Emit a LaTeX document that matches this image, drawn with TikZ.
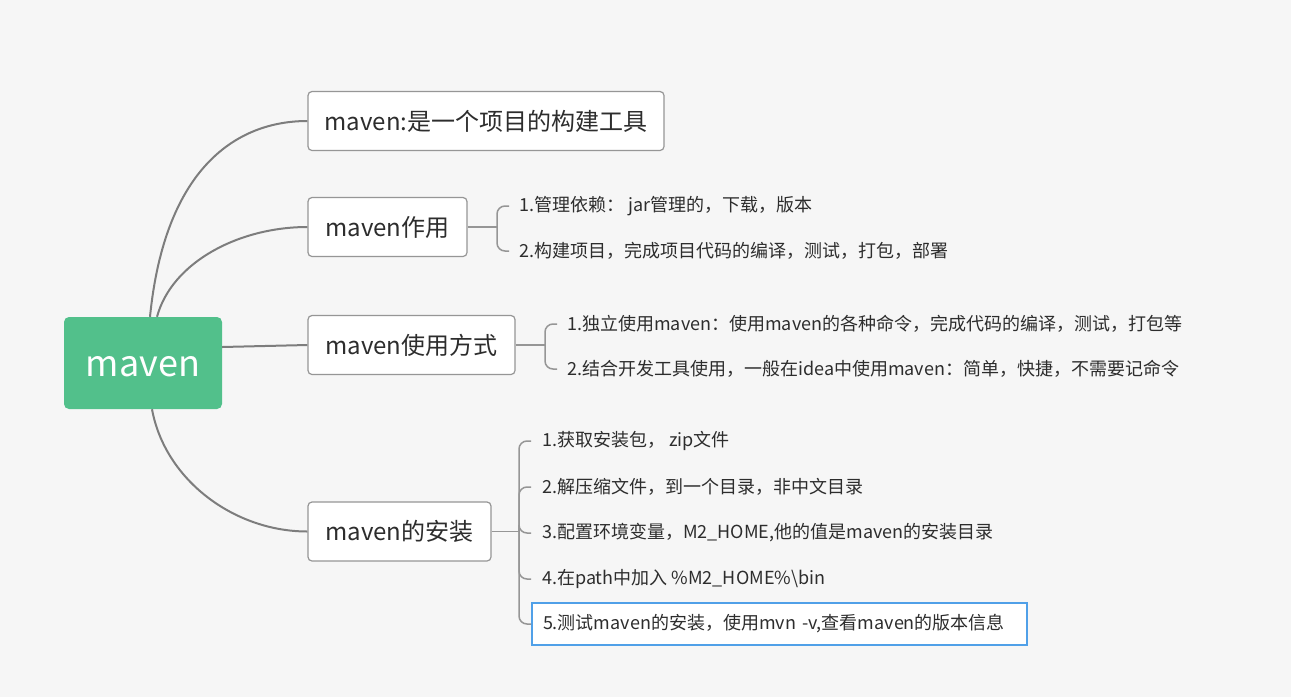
\documentclass[tikz,border=0pt]{standalone}
\usepackage{fontspec}
\setmainfont{Noto Sans CJK SC}
\definecolor{mvgreen}{RGB}{82,192,139}
\definecolor{paper}{RGB}{246,246,246}
\definecolor{edgegray}{RGB}{125,125,125}
\definecolor{boxgray}{RGB}{150,150,150}
\definecolor{txt}{RGB}{45,45,45}
\definecolor{selblue}{RGB}{80,160,232}
\begin{document}
\begin{tikzpicture}[x=1pt,y=-1pt,
    topic/.style={draw=boxgray,line width=1.2pt,fill=white,rounded corners=4pt,minimum height=59pt,inner xsep=0pt,text=txt,font=\fontsize{24}{28}\selectfont},
    leaf/.style={anchor=west,inner xsep=10pt,text=txt,font=\fontsize{18}{22}\selectfont},
    link/.style={draw=edgegray,line width=2pt},
    brace/.style={draw=boxgray,line width=1.5pt,rounded corners=8pt}]
    \fill[paper] (0,0) rectangle (1291,697);
    \useasboundingbox (0,0) rectangle (1291,697);
    \node[fill=mvgreen,rounded corners=5pt,minimum width=158pt,minimum height=92pt,text height=26pt,text depth=0pt,text=white,font=\fontsize{36}{40}\selectfont] (root) at (143,363) {maven};
    \node[topic,minimum width=356pt] (what) at (486,121) {maven:是一个项目的构建工具};
    \node[topic,minimum width=159pt] (use) at (387.5,227) {maven作用};
    \node[topic,minimum width=207pt] (way) at (411.5,345) {maven使用方式};
    \node[topic,minimum width=183pt] (install) at (399.5,531.5) {maven的安装};
    \draw[link] ([xshift=7pt]root.north) .. controls +(15,-150) and +(-70,0) .. (what.west);
    \draw[link] ([xshift=14pt]root.north) .. controls +(15,-55) and +(-68,0) .. (use.west);
    \draw[link] ([yshift=16pt]root.east) -- (way.west);
    \draw[link] ([xshift=9pt]root.south) .. controls +(13,71) and +(-73,0) .. (install.west);
    \node[leaf] (use1) at (509,206) {1.管理依赖： jar管理的，下载，版本};
    \node[leaf] (use2) at (509,251) {2.构建项目，完成项目代码的编译，测试，打包，部署};
    \coordinate (usej) at (497,227);
    \draw[brace] (use.east) -- (usej);
    \draw[brace] (usej) |- (use1.west);
    \draw[brace] (usej) |- (use2.west);
    \node[leaf] (way1) at (557,324) {1.独立使用maven：使用maven的各种命令，完成代码的编译，测试，打包等};
    \node[leaf] (way2) at (557,369) {2.结合开发工具使用，一般在idea中使用maven：简单，快捷，不需要记命令};
    \coordinate (wayj) at (545,345);
    \draw[brace] (way.east) -- (wayj);
    \draw[brace] (wayj) |- (way1.west);
    \draw[brace] (wayj) |- (way2.west);
    \node[leaf,inner xsep=11pt] (inst1) at (531,441) {1.获取安装包， zip文件};
    \node[leaf,inner xsep=11pt] (inst2) at (531,487) {2.解压缩文件，到一个目录，非中文目录};
    \node[leaf,inner xsep=11pt] (inst3) at (531,533) {3.配置环境变量，M2\_HOME,他的值是maven的安装目录};
    \node[leaf,inner xsep=11pt] (inst4) at (531,579) {4.在path中加入 \%M2\_HOME\%\textbackslash bin};
    \node[leaf,inner xsep=11pt,draw=selblue,line width=2pt,fill=white,minimum height=42pt,text width=473pt] (inst5) at (531,624) {5.测试maven的安装，使用mvn -v,查看maven的版本信息};
    \coordinate (instj) at (519,531.5);
    \draw[brace] (install.east) -- (instj);
    \foreach \i in {1,...,5}
      \draw[brace] (instj) |- (inst\i.west);
  \end{tikzpicture}
\end{document}
